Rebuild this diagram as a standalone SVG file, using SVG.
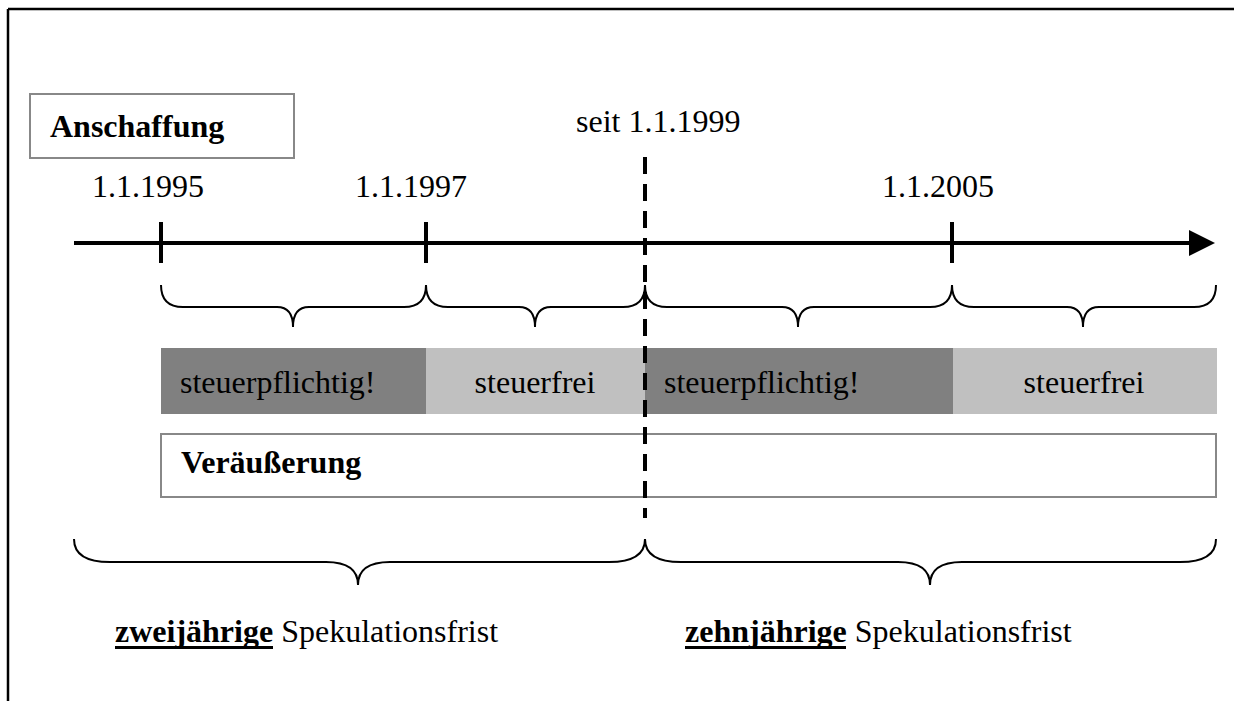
<svg xmlns="http://www.w3.org/2000/svg" width="1234" height="701" viewBox="0 0 1234 701">
  <style>
    .t { font-family: "Liberation Serif", "Times New Roman", serif; font-size: 32px; fill: #000; }
    .b { font-weight: bold; }
    .brace { fill: none; stroke: #000; stroke-width: 2; }
    .tick { stroke: #000; stroke-width: 4; }
    .box { fill: #fff; stroke: #888; stroke-width: 2; }
    .dark { fill: #808080; }
    .light { fill: #c0c0c0; }
    .ul { stroke: #000; stroke-width: 3; }
  </style>
  <rect width="1234" height="701" fill="#fff"/>
  <g id="frame">
    <line x1="8" y1="9" x2="1234" y2="9" stroke="#000" stroke-width="2.5"/>
    <line x1="8" y1="9" x2="8" y2="701" stroke="#000" stroke-width="2.5"/>
  </g>
  <g id="anschaffung">
    <rect class="box" x="30" y="94" width="264" height="64"/>
    <text class="t b" x="50" y="137">Anschaffung</text>
  </g>
  <g id="dates">
    <text class="t" x="92" y="197">1.1.1995</text>
    <text class="t" x="355" y="197">1.1.1997</text>
    <text class="t" x="576" y="132">seit 1.1.1999</text>
    <text class="t" x="882" y="197">1.1.2005</text>
  </g>
  <g id="connectors">
    <line x1="74" y1="243" x2="1192" y2="243" stroke="#000" stroke-width="4"/>
    <polygon points="1189,230 1215,243 1189,256" fill="#000"/>
    <line class="tick" x1="161" y1="222" x2="161" y2="263"/>
    <line class="tick" x1="426" y1="222" x2="426" y2="263"/>
    <line class="tick" x1="952" y1="222" x2="952" y2="263"/>
    <path class="brace" d="M161,285 Q161,307 183,307 L277,307 Q293,307 293,327 Q293,307 309,307 L404,307 Q426,307 426,285"/>
    <path class="brace" d="M426,285 Q426,307 448,307 L519,307 Q535,307 535,327 Q535,307 551,307 L623,307 Q645,307 645,285"/>
    <path class="brace" d="M645,285 Q645,307 667,307 L782,307 Q798,307 798,327 Q798,307 814,307 L930,307 Q952,307 952,285"/>
    <path class="brace" d="M952,285 Q952,307 974,307 L1067,307 Q1083,307 1083,327 Q1083,307 1099,307 L1194,307 Q1216,307 1216,285"/>
    <path class="brace" d="M74,539 Q74,562 110,562 L326,562 Q358,562 358,585 Q358,562 390,562 L609,562 Q645,562 645,539"/>
    <path class="brace" d="M645,539 Q645,562 681,562 L898,562 Q930,562 930,585 Q930,562 962,562 L1180,562 Q1216,562 1216,539"/>
  </g>
  <g id="bars">
    <rect class="dark" x="161" y="348" width="265" height="66"/>
    <rect class="light" x="426" y="348" width="219" height="66"/>
    <rect class="dark" x="645" y="348" width="308" height="66"/>
    <rect class="light" x="953" y="348" width="264" height="66"/>
    <text class="t" x="180" y="393">steuerpflichtig!</text>
    <text class="t" x="535" y="393" text-anchor="middle">steuerfrei</text>
    <text class="t" x="664" y="393">steuerpflichtig!</text>
    <text class="t" x="1084" y="393" text-anchor="middle">steuerfrei</text>
  </g>
  <g id="veraeusserung">
    <rect class="box" x="161" y="434" width="1055" height="63"/>
    <text class="t b" x="181" y="473">Veräußerung</text>
  </g>
  <g id="cutoff">
    <line x1="645" y1="157" x2="645" y2="518" stroke="#000" stroke-width="4" stroke-dasharray="17,10"/>
  </g>
  <g id="labels">
    <text class="t" x="115" y="642"><tspan class="b">zweijährige</tspan> Spekulationsfrist</text>
    <line class="ul" x1="115" y1="647.5" x2="273" y2="647.5"/>
    <text class="t" x="685" y="642"><tspan class="b">zehnjährige</tspan> Spekulationsfrist</text>
    <line class="ul" x1="685" y1="647.5" x2="846" y2="647.5"/>
  </g>
</svg>
